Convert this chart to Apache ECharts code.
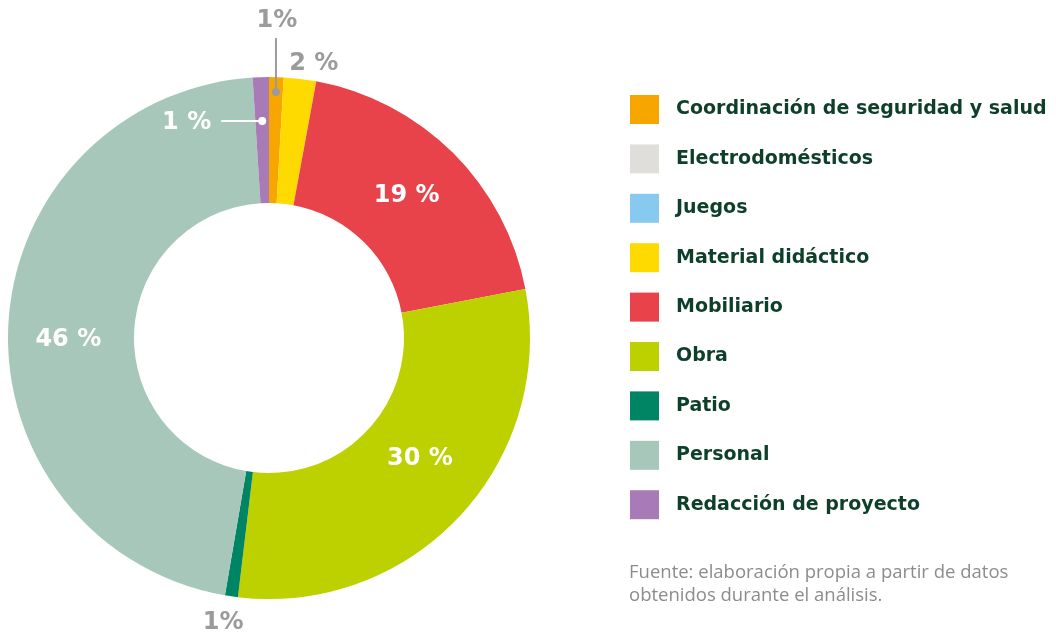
<!DOCTYPE html>
<html>
<head>
<meta charset="utf-8">
<script src="https://cdn.jsdelivr.net/npm/echarts@6/dist/echarts.min.js"></script>
<style>
  html, body { margin: 0; padding: 0; background: #fff; }
  #chart { width: 1056px; height: 638px; }
</style>
</head>
<body>
<div id="chart"></div>
<script>
// categorías y valores (%)
const categories = [
  'Coordinación de seguridad y salud',
  'Electrodomésticos',
  'Juegos',
  'Material didáctico',
  'Mobiliario',
  'Obra',
  'Patio',
  'Personal',
  'Redacción de proyecto'
];
const values = [0.9, 0, 0, 2.0, 19.1, 29.9, 0.8, 46.3, 1.0];
const labelTexts = ['1%', '', '', '2 %', '19 %', '30 %', '1%', '46 %', '1 %'];
const colors = ['#F7A600', '#DFDEDA', '#88C9EF', '#FFDA00', '#E8424A', '#BDD000', '#008564', '#A6C7BA', '#A97BB6'];
const sourceText = 'Fuente: elaboración propia a partir de datos\nobtenidos durante el análisis.';

// etiquetas dentro del anillo (con pequeño desplazamiento manual)
const insideLabels = {
  'Mobiliario': [-4, 0],
  'Obra': [4, -16],
  'Personal': [0, 12]
};

const textDark = '#0E3F2A';
const greyLabel = '#9B9B9B';
const labelFont = '"DejaVu Sans", sans-serif';

const chart = echarts.init(document.getElementById('chart'));

const pieData = categories.map((name, i) => ({
  name: name,
  value: values[i],
  itemStyle: { color: colors[i] },
  label: insideLabels[name]
    ? {
        show: true, position: 'inside', formatter: labelTexts[i], offset: insideLabels[name],
        color: '#fff', fontSize: 24, fontWeight: 'bold', fontFamily: labelFont
      }
    : { show: false }
}));

chart.setOption({
  animation: false,
  legend: {
    orient: 'vertical',
    left: 625,
    top: 90,
    icon: 'rect',
    itemWidth: 29,
    itemHeight: 29,
    itemGap: 20.4,
    selectedMode: false,
    textStyle: {
      color: textDark,
      fontSize: 19,
      fontWeight: 'bold',
      fontFamily: labelFont,
      padding: [0, 0, 0, 12]
    },
    data: categories
  },
  series: [{
    type: 'pie',
    center: [269, 338],
    radius: [135, 261],
    startAngle: 90,
    clockwise: true,
    silent: true,
    labelLine: { show: false },
    data: pieData
  }]
});

// etiquetas exteriores y líneas guía a partir de la geometría del gráfico
function slicePoint(idx, r) {
  const lay = chart.getModel().getSeriesByIndex(0).getData().getItemLayout(idx);
  const a = (lay.startAngle + lay.endAngle) / 2;
  return [lay.cx + r * Math.cos(a), lay.cy + r * Math.sin(a)];
}

const idxCoord = categories.indexOf('Coordinación de seguridad y salud');
const idxMat = categories.indexOf('Material didáctico');
const idxPatio = categories.indexOf('Patio');
const idxRed = categories.indexOf('Redacción de proyecto');

const pCoord = slicePoint(idxCoord, 246);
const pMat = slicePoint(idxMat, 276);
const pPatio = slicePoint(idxPatio, 284);
const pRed = slicePoint(idxRed, 217);

const pctStyle = (txt, color, align) => ({
  text: txt,
  fill: color,
  font: 'bold 24px ' + labelFont,
  align: align || 'center',
  verticalAlign: 'middle'
});

chart.setOption({
  graphic: [
    { type: 'line', z: 100, shape: { x1: pCoord[0], y1: pCoord[1], x2: pCoord[0], y2: pCoord[1] - 54 }, style: { stroke: greyLabel, lineWidth: 2 }, silent: true },
    { type: 'circle', z: 101, shape: { cx: pCoord[0], cy: pCoord[1], r: 4 }, style: { fill: greyLabel }, silent: true },
    { type: 'text', z: 100, x: pCoord[0] + 1, y: pCoord[1] - 71, style: pctStyle(labelTexts[idxCoord], greyLabel) },
    { type: 'text', z: 100, x: pMat[0] + 12, y: pMat[1], style: pctStyle(labelTexts[idxMat], greyLabel) },
    { type: 'text', z: 100, x: pPatio[0] - 5, y: pPatio[1] + 4, style: pctStyle(labelTexts[idxPatio], greyLabel) },
    { type: 'line', z: 100, shape: { x1: pRed[0], y1: pRed[1], x2: pRed[0] - 41, y2: pRed[1] }, style: { stroke: '#fff', lineWidth: 2 }, silent: true },
    { type: 'circle', z: 101, shape: { cx: pRed[0], cy: pRed[1], r: 4 }, style: { fill: '#fff' }, silent: true },
    { type: 'text', z: 100, x: pRed[0] - 51, y: pRed[1] + 2, style: pctStyle(labelTexts[idxRed], '#fff', 'right') },
    {
      type: 'text', left: 629, top: 561,
      style: { text: sourceText, fill: '#8C8C8C', font: '18.5px "Open Sans", sans-serif', lineHeight: 23 }
    }
  ]
});
</script>
</body>
</html>
